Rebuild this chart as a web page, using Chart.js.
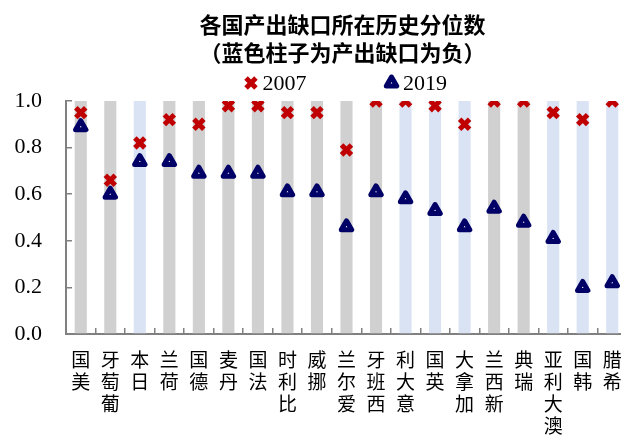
<!DOCTYPE html>
<html lang="zh">
<head>
    <meta charset="UTF-8">
    <title>各国产出缺口所在历史分位数</title>
    <script src="https://cdn.jsdelivr.net/npm/chart.js@4.4.0/dist/chart.umd.min.js"></script>
    <style>
        html, body {
            margin: 0;
            padding: 0;
            background: #ffffff;
            overflow: hidden;
        }
        #gapChart {
            display: block;
        }
    </style>
</head>
<body>
    <canvas id="gapChart" width="627" height="436"></canvas>

    <script>
        // Countries, left to right
        const categories = ['美国', '葡萄牙', '日本', '荷兰', '德国', '丹麦', '法国', '比利时', '挪威', '爱尔兰',
            '西班牙', '意大利', '英国', '加拿大', '新西兰', '瑞典', '澳大利亚', '韩国', '希腊'];

        // Historical percentile of the output gap
        const pct2007 = [0.95, 0.66, 0.82, 0.92, 0.90, 0.98, 0.98, 0.95, 0.95, 0.79,
            1.00, 1.00, 0.98, 0.90, 1.00, 1.00, 0.95, 0.92, 1.00];
        const pct2019 = [0.89, 0.60, 0.74, 0.74, 0.69, 0.69, 0.69, 0.61, 0.61, 0.46,
            0.61, 0.58, 0.53, 0.46, 0.54, 0.48, 0.41, 0.20, 0.22];

        // Background columns (blue = negative output gap)
        const columnTop = [1, 1, 1, 1, 1, 1, 1, 1, 1, 1, 1, 1, 1, 1, 1, 1, 1, 1, 1];
        const negativeGap = [false, false, true, false, false, false, false, false, false, false,
            false, true, true, true, false, false, true, true, true];

        const seriesNames = ['2007', '2019'];
        const titleLines = ['各国产出缺口所在历史分位数', '（蓝色柱子为产出缺口为负）'];

        const RED = '#c00000';
        const NAVY = '#000066';
        const GREY = '#d0d0d0';
        const BLUE = '#dae3f3';
        const AXIS = '#808080';
        const SERIF = '"Liberation Serif", "Times New Roman", serif';
        const CJK = '"Noto Sans CJK SC", sans-serif';

        // Move title to the plot centre, round off triangle corners, draw legend
        const layoutTweaks = {
            id: 'layoutTweaks',
            afterLayout(chart) {
                const area = chart.chartArea;
                chart.titleBlock.left = area.left - 4;
                chart.titleBlock.right = area.right - 4;
            },
            beforeDatasetsDraw(chart) {
                chart.ctx.save();
                chart.ctx.lineJoin = 'round';
            },
            afterDatasetsDraw(chart) {
                chart.ctx.restore();
            },
            afterDraw(chart) {
                const ctx = chart.ctx;
                const items = [
                    { ds: chart.data.datasets[1] },
                    { ds: chart.data.datasets[0] }
                ];
                ctx.save();
                ctx.font = '22px ' + SERIF;
                ctx.textBaseline = 'middle';
                ctx.textAlign = 'left';
                const markToText = 11.5, itemGap = 85;
                let total = 7;
                items.forEach((it, i) => {
                    it.w = ctx.measureText(it.ds.label).width;
                    total += markToText + it.w + (i > 0 ? itemGap : 0);
                });
                let x = (chart.chartArea.left + chart.chartArea.right) / 2 - 1 - total / 2 + 7;
                const y = 83;
                items.forEach((it, i) => {
                    if (i > 0) x += itemGap;
                    const ds = it.ds;
                    ctx.lineJoin = 'round';
                    ctx.fillStyle = ds.pointBackgroundColor;
                    ctx.strokeStyle = ds.pointBorderColor;
                    ctx.lineWidth = ds.pointBorderWidth;
                    Chart.helpers.drawPoint(ctx, {
                        pointStyle: ds.pointStyle,
                        radius: ds.pointRadius,
                        borderWidth: ds.pointBorderWidth,
                        rotation: 0
                    }, x, y);
                    ctx.fillStyle = '#000000';
                    ctx.fillText(ds.label, x + markToText, y + 1);
                    x += markToText + it.w;
                });
                ctx.restore();
            }
        };

        const ctx = document.getElementById('gapChart').getContext('2d');
        new Chart(ctx, {
            type: 'bar',
            data: {
                labels: categories,
                datasets: [
                    {
                        type: 'line',
                        label: seriesNames[1],
                        data: pct2019,
                        showLine: false,
                        pointStyle: 'triangle',
                        pointRadius: 6,
                        pointHoverRadius: 6,
                        pointBorderWidth: 5,
                        pointBorderColor: NAVY,
                        pointBackgroundColor: '#ffffff',
                        order: 0
                    },
                    {
                        type: 'line',
                        label: seriesNames[0],
                        data: pct2007,
                        showLine: false,
                        pointStyle: 'crossRot',
                        pointRadius: 7,
                        pointHoverRadius: 7,
                        pointBorderWidth: 5,
                        pointBorderColor: RED,
                        pointBackgroundColor: RED,
                        order: 1
                    },
                    {
                        label: 'column',
                        data: columnTop,
                        backgroundColor: negativeGap.map(n => n ? BLUE : GREY),
                        borderWidth: 0,
                        categoryPercentage: 1,
                        barPercentage: 0.41,
                        order: 2
                    }
                ]
            },
            options: {
                responsive: false,
                animation: false,
                devicePixelRatio: 1,
                events: [],
                layout: { padding: 0, autoPadding: false },
                plugins: {
                    legend: { display: false },
                    tooltip: { enabled: false },
                    title: {
                        display: true,
                        text: titleLines,
                        color: '#000000',
                        font: { family: CJK, size: 22, weight: 'bold', lineHeight: 28 / 22 },
                        padding: { top: 11, bottom: 34 }
                    }
                },
                scales: {
                    x: {
                        offset: true,
                        grid: {
                            offset: true,
                            drawOnChartArea: false,
                            tickLength: -6,
                            color: AXIS,
                            lineWidth: 1.5
                        },
                        border: { color: AXIS, width: 2 },
                        ticks: {
                            autoSkip: false,
                            maxRotation: 0,
                            minRotation: 0,
                            padding: 21,
                            color: '#000000',
                            font: { family: CJK, size: 19, lineHeight: 1.15 },
                            // stack the characters upright, read from the bottom up
                            callback: (value, i) => categories[i].split('').reverse()
                        },
                        afterFit: scale => {
                            scale.height = 102;
                            scale.paddingLeft = 0;
                            scale.paddingRight = 0;
                        }
                    },
                    y: {
                        min: 0,
                        max: 1,
                        grid: {
                            drawOnChartArea: false,
                            tickLength: -6,
                            color: AXIS,
                            lineWidth: 1.5
                        },
                        border: { color: AXIS, width: 2 },
                        ticks: {
                            stepSize: 0.2,
                            padding: 30,
                            color: '#000000',
                            font: { family: SERIF, size: 22 },
                            callback: value => value.toFixed(1)
                        },
                        afterFit: scale => { scale.width = 66; }
                    }
                }
            },
            plugins: [layoutTweaks]
        });
    </script>
</body>
</html>
